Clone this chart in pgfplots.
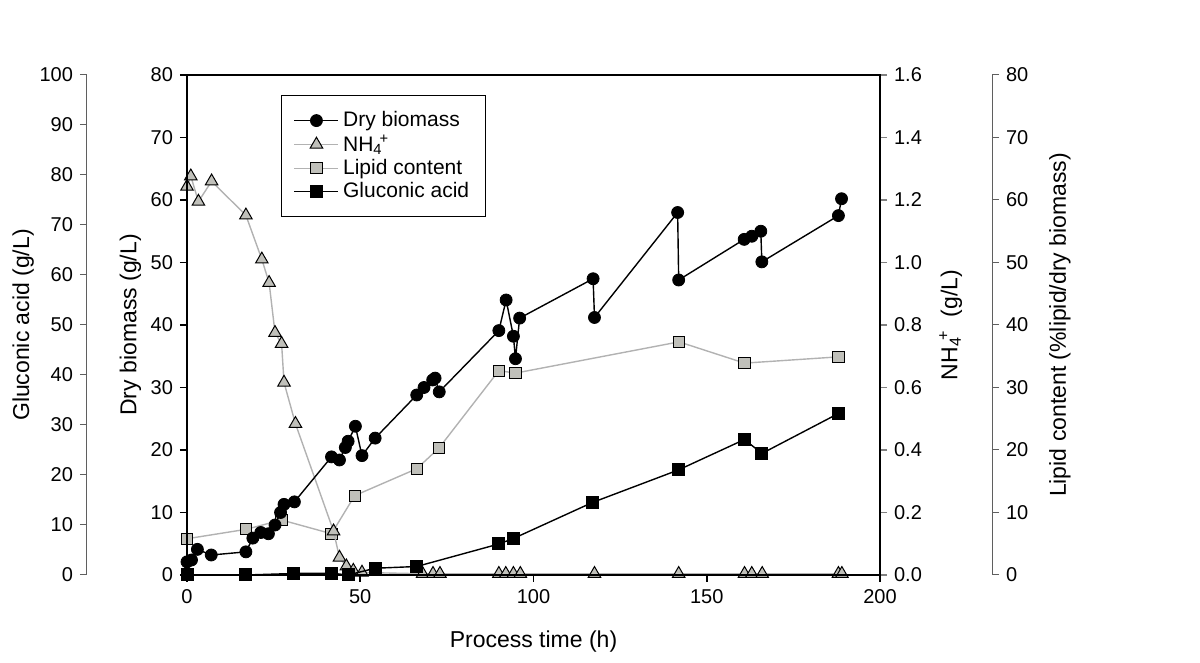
\documentclass[border=0pt]{standalone}
\usepackage{fontspec}
\setmainfont{Liberation Sans}
\usepackage{pgfplots}
\pgfplotsset{compat=1.18}
\definecolor{lgray}{RGB}{178,178,178}
\definecolor{mgray}{RGB}{192,192,186}
\definecolor{agray}{RGB}{95,95,95}

\pgfplotstableread{
t y
0 2.1
1.3 2.4
3 4.1
7 3.2
17 3.7
19 5.9
21.3 6.8
23.5 6.6
25.4 8.0
27 10.0
28 11.3
31 11.7
41.7 18.9
44 18.4
45.7 20.4
46.5 21.4
48.6 23.8
50.5 19.1
54.3 21.9
66.3 28.8
68.4 30.0
70.9 31.2
71.6 31.5
72.8 29.3
90 39.1
92.1 44.0
94.2 38.2
94.8 34.6
96 41.1
117.2 47.4
117.6 41.2
141.6 58.0
141.9 47.2
160.8 53.7
163 54.2
165.6 55.0
165.9 50.1
188 57.5
188.9 60.2
}\biomass

\pgfplotstableread{
t y
0 1.243
1.1 1.276
3.3 1.195
7.1 1.26
17 1.151
21.6 1.01
23.7 0.935
25.4 0.775
27.3 0.74
28 0.616
31.3 0.484
42.3 0.14
44 0.056
46 0.028
48 0.014
50.5 0.008
68 0.004
71 0.004
73 0.004
90 0.004
92 0.004
94.2 0.004
96.2 0.004
117.6 0.004
141.9 0.004
160.9 0.004
163 0.004
166 0.004
188 0.004
189 0.004
}\ammonium

\pgfplotstableread{
t y
0 5.8
17 7.3
27.3 8.8
41.7 6.6
48.4 12.7
66.3 17.0
72.7 20.3
90 32.7
94.8 32.3
142 37.3
160.9 33.9
188 34.9
}\lipid

\pgfplotstableread{
t y
0 0
17 0
30.8 0.3
41.7 0.35
46.5 0
54.3 1.35
66.3 1.7
90 6.2
94.2 7.3
117 14.5
141.8 21.0
160.9 27.1
165.9 24.3
188 32.3
}\gluconic

\begin{document}
\begin{tikzpicture}
\useasboundingbox (0pt,0pt) rectangle (600pt,331.5pt);
\pgfplotsset{
  every axis/.append style={
    font=\fontsize{10}{12}\selectfont,
    /pgf/number format/assume math mode=true,
    scale only axis, width=346.5pt, height=250pt,
    anchor=south west, tick align=outside,
    major tick length=3.5pt,
    label style={font=\fontsize{11.5}{13.8}\selectfont},
  },
  bio/.style={black, line width=0.7pt, mark=*, mark size=3pt, mark options={solid, fill=black, draw=black, line width=0.4pt}},
  nh/.style={lgray, line width=0.7pt, mark=triangle*, mark size=3.6pt, mark options={solid, fill=mgray, draw=black, line width=0.5pt}},
  lip/.style={lgray, line width=0.7pt, mark=square*, mark size=2.8pt, mark options={solid, fill=mgray, draw=black, line width=0.5pt}},
  glu/.style={black, line width=0.7pt, mark=square*, mark size=2.9pt, mark options={solid, fill=black, draw=black}},
}

% Gluconic acid scale (far left)
\begin{axis}[at={(43.5pt,44pt)}, xmin=0, xmax=1, ymin=0, ymax=100,
  axis x line=none, axis y line*=left,
  ytick={0,10,...,100},
  y axis line style={agray, line width=0.5pt}, ytick style={agray, line width=0.5pt},
  ylabel={Gluconic acid (g/L)},
  ylabel style={at={(axis description cs:-0.092,0.5)}, anchor=center}]
\end{axis}

% Lipid content scale (far right)
\begin{axis}[at={(149.5pt,44pt)}, xmin=0, xmax=1, ymin=0, ymax=80,
  axis x line=none, axis y line*=right,
  ytick={0,10,...,80},
  y axis line style={agray, line width=0.5pt}, ytick style={agray, line width=0.5pt},
  ylabel={Lipid content (\%lipid/dry biomass)},
  ylabel style={at={(axis description cs:1.098,0.5)}, anchor=center}]
\end{axis}

% Lipid data
\begin{axis}[at={(93.5pt,44pt)}, xmin=0, xmax=200, ymin=0, ymax=80, hide axis, clip=false]
\addplot[lip] table {\lipid};
\end{axis}

% NH4 axis (right)
\begin{axis}[at={(93.5pt,44pt)}, xmin=0, xmax=200, ymin=0, ymax=1.6,
  axis x line=none, axis y line*=right, clip=false,
  ytick={0,0.2,0.4,0.6,0.8,1.0,1.2,1.4,1.6},
  yticklabel style={/pgf/number format/.cd, fixed, fixed zerofill, precision=1},
  y axis line style={line width=0.8pt}, ytick style={line width=0.8pt},
  ylabel={NH\textsubscript{4}\kern-0.15em\textsuperscript{+}\ \ (g/L)},
  ylabel style={at={(axis description cs:1.102,0.5)}, anchor=center}]
\addplot[nh] table {\ammonium};
\end{axis}

% Gluconic data
\begin{axis}[at={(93.5pt,44pt)}, xmin=0, xmax=200, ymin=0, ymax=100, hide axis, clip=false]
\addplot[glu] table {\gluconic};
\end{axis}

% Main axis
\begin{axis}[at={(93.5pt,44pt)}, xmin=0, xmax=200, ymin=0, ymax=80, clip=false,
  xtick={0,50,...,200}, ytick={0,10,...,80},
  xtick pos=left, ytick pos=left,
  axis line style={line width=0.8pt}, tick style={line width=0.8pt, black},
  xlabel={Process time (h)},
  xlabel style={at={(axis description cs:0.5,-0.134)}, anchor=center},
  ylabel={Dry biomass (g/L)},
  ylabel style={at={(axis description cs:-0.0815,0.5)}, anchor=center},
  legend style={at={(axis description cs:0.136,0.96)}, anchor=north west,
    draw=black, line width=0.5pt, fill=white,
    font=\fontsize{10.5}{12.6}\selectfont, row sep=-1.5pt,
    inner xsep=6pt, inner ysep=6pt},
  legend cell align=left,
  legend image code/.code={\draw[mark repeat=2, mark phase=2] plot coordinates {(0pt,0pt) (11pt,0pt) (22pt,0pt)};},
]
\addplot[bio] table {\biomass};
\addlegendentry{Dry biomass}
\addlegendimage{nh}
\addlegendentry{NH\textsubscript{4}\kern-0.15em\textsuperscript{+}}
\addlegendimage{lip}
\addlegendentry{Lipid content}
\addlegendimage{glu}
\addlegendentry{Gluconic acid}
\end{axis}
\end{tikzpicture}
\end{document}
